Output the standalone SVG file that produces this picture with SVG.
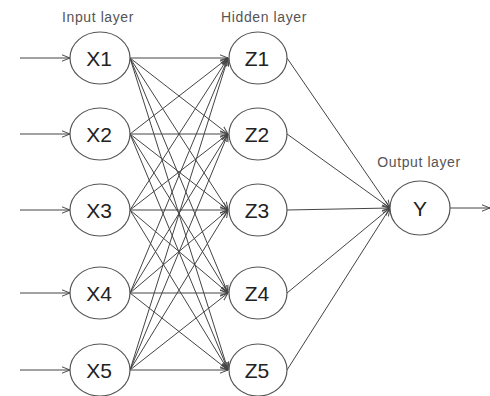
<svg xmlns="http://www.w3.org/2000/svg" width="490" height="396" viewBox="0 0 490 396">
<defs>
<style>
.n{fill:#fff;stroke:#555;stroke-width:1.2}
.t{font-family:"Liberation Sans",Arial,sans-serif;font-size:21px;fill:#222;text-anchor:middle;dominant-baseline:central}
.l{font-family:"Liberation Sans",Arial,sans-serif;font-size:14px;fill:#555;text-anchor:middle;letter-spacing:0.6px}
.c line{stroke:#444;stroke-width:1;marker-end:url(#a)}
</style>
<marker id="a" viewBox="0 0 10 10" refX="10" refY="5" markerWidth="8" markerHeight="8" markerUnits="userSpaceOnUse" orient="auto">
<path d="M0,1 L10,5 L0,9" fill="none" stroke="#444" stroke-width="1.2"/>
</marker>
</defs>
<rect width="490" height="396" fill="#fff"/>
<text class="l" x="98" y="22">Input layer</text>
<text class="l" x="264" y="22">Hidden layer</text>
<text class="l" x="419" y="167">Output layer</text>
<g class="c" id="connectors">
<line x1="20" y1="58" x2="70" y2="58"/>
<line x1="20" y1="134" x2="70" y2="134"/>
<line x1="20" y1="210" x2="70" y2="210"/>
<line x1="20" y1="293" x2="70" y2="293"/>
<line x1="20" y1="370" x2="70" y2="370"/>
<line x1="130" y1="58" x2="228" y2="58"/><line x1="130" y1="58" x2="228" y2="134"/><line x1="130" y1="58" x2="228" y2="210"/><line x1="130" y1="58" x2="228" y2="293"/><line x1="130" y1="58" x2="228" y2="370"/>
<line x1="130" y1="134" x2="228" y2="58"/><line x1="130" y1="134" x2="228" y2="134"/><line x1="130" y1="134" x2="228" y2="210"/><line x1="130" y1="134" x2="228" y2="293"/><line x1="130" y1="134" x2="228" y2="370"/>
<line x1="130" y1="210" x2="228" y2="58"/><line x1="130" y1="210" x2="228" y2="134"/><line x1="130" y1="210" x2="228" y2="210"/><line x1="130" y1="210" x2="228" y2="293"/><line x1="130" y1="210" x2="228" y2="370"/>
<line x1="130" y1="293" x2="228" y2="58"/><line x1="130" y1="293" x2="228" y2="134"/><line x1="130" y1="293" x2="228" y2="210"/><line x1="130" y1="293" x2="228" y2="293"/><line x1="130" y1="293" x2="228" y2="370"/>
<line x1="130" y1="370" x2="228" y2="58"/><line x1="130" y1="370" x2="228" y2="134"/><line x1="130" y1="370" x2="228" y2="210"/><line x1="130" y1="370" x2="228" y2="293"/><line x1="130" y1="370" x2="228" y2="370"/>
<line x1="287" y1="58" x2="390" y2="208"/>
<line x1="287" y1="134" x2="390" y2="208"/>
<line x1="287" y1="210" x2="390" y2="208"/>
<line x1="287" y1="293" x2="390" y2="208"/>
<line x1="287" y1="370" x2="390" y2="208"/>
<line x1="450" y1="208" x2="490" y2="208"/>
</g>
<g id="X1"><ellipse class="n" cx="100" cy="58" rx="30" ry="26"/><text class="t" x="99" y="58">X1</text></g>
<g id="X2"><ellipse class="n" cx="100" cy="134" rx="30" ry="26"/><text class="t" x="99" y="134">X2</text></g>
<g id="X3"><ellipse class="n" cx="100" cy="210" rx="30" ry="26"/><text class="t" x="99" y="210">X3</text></g>
<g id="X4"><ellipse class="n" cx="100" cy="293" rx="30" ry="26"/><text class="t" x="99" y="293">X4</text></g>
<g id="X5"><ellipse class="n" cx="100" cy="370" rx="30" ry="26"/><text class="t" x="99" y="370">X5</text></g>
<g id="Z1"><ellipse class="n" cx="258" cy="58" rx="29" ry="26"/><text class="t" x="257" y="58">Z1</text></g>
<g id="Z2"><ellipse class="n" cx="258" cy="134" rx="29" ry="26"/><text class="t" x="257" y="134">Z2</text></g>
<g id="Z3"><ellipse class="n" cx="258" cy="210" rx="29" ry="26"/><text class="t" x="257" y="210">Z3</text></g>
<g id="Z4"><ellipse class="n" cx="258" cy="293" rx="29" ry="26"/><text class="t" x="257" y="293">Z4</text></g>
<g id="Z5"><ellipse class="n" cx="258" cy="370" rx="29" ry="26"/><text class="t" x="257" y="370">Z5</text></g>
<g id="Y"><ellipse class="n" cx="420" cy="208" rx="30" ry="27"/><text class="t" x="420" y="208">Y</text></g>
</svg>
